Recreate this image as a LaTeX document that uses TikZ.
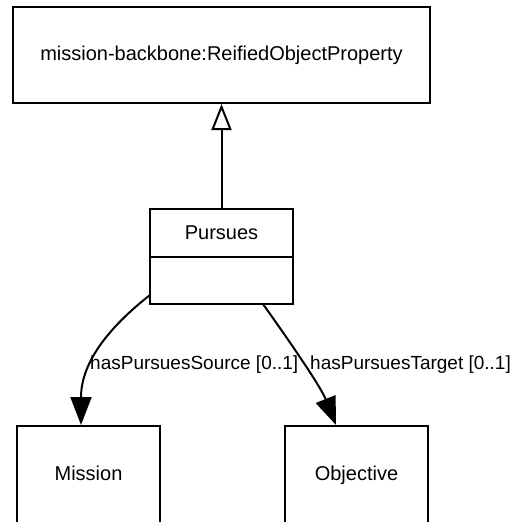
\documentclass[tikz,border=0pt]{standalone}
\usepackage{fontspec}
\setmainfont{Liberation Sans}
\usetikzlibrary{arrows.meta}
\begin{document}
\begin{tikzpicture}[x=1pt,y=-1pt,
  box/.style={draw, line width=2pt, rectangle, inner sep=0pt, outer sep=0pt, font=\fontsize{20}{24}\selectfont},
  lbl/.style={font=\fontsize{19}{22}\selectfont, inner sep=0pt, anchor=west},
  assoc/.style={line width=2pt, -{Triangle[length=28pt,width=21pt]}},
  inh/.style={line width=2pt, -{Triangle[open,length=26pt,width=20pt,fill=white]}}]
\useasboundingbox (0,0) rectangle (516,522);
\node[box, minimum width=417pt, minimum height=96pt] (rop) at (221.5,55) {mission-backbone:ReifiedObjectProperty};
\node[box, minimum width=143pt, minimum height=48pt] (pur) at (221.5,233) {Pursues};
\node[box, minimum width=143pt, minimum height=47pt, anchor=north] (purb) at (pur.south) {};
\node[box, minimum width=143pt, minimum height=100pt, text height=14pt, text depth=6pt] (mis) at (88.5,476) {Mission};
\node[box, minimum width=143pt, minimum height=100pt, text height=14pt, text depth=6pt] (obj) at (356.5,476) {Objective};
\draw[inh] (pur.north) -- ([yshift=-1pt]rop.south);
\draw[assoc] ([yshift=9pt]purb.south west) .. controls (113,324) and (81,360) .. ([xshift=-7.5pt,yshift=1pt]mis.north);
\draw[assoc] ([xshift=41.5pt]purb.south) .. controls (285,335) and (320,385) .. ([xshift=-20.5pt,yshift=1pt]obj.north);
\node[lbl] (ls) at (90,365) {hasPursuesSource [0..1]};
\node[lbl] (lt) at (310,365) {hasPursuesTarget [0..1]};
\end{tikzpicture}
\end{document}
